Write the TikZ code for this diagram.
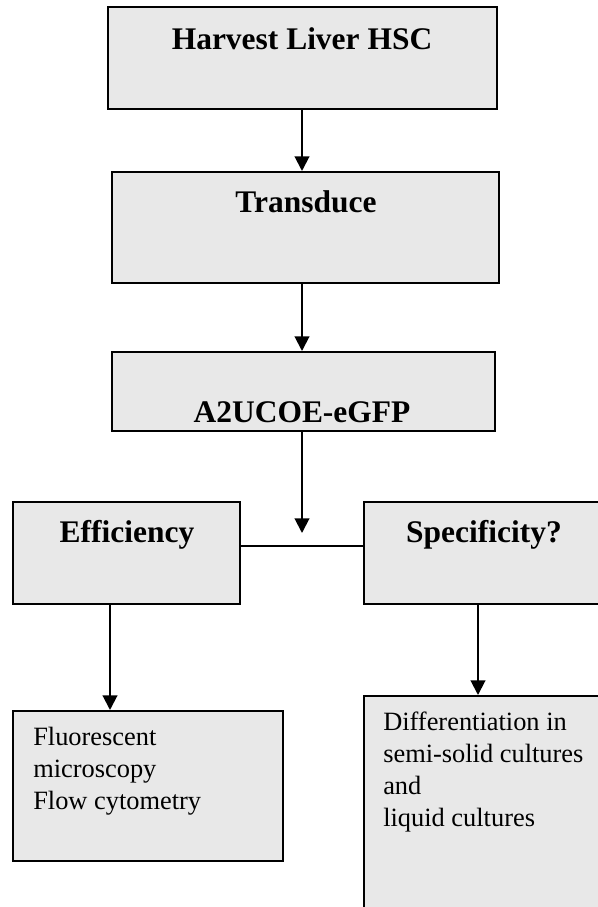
\documentclass[tikz,border=0pt]{standalone}
\usepackage{fontspec}
\setmainfont{Liberation Serif}
\usetikzlibrary{arrows.meta,fit}

\begin{document}
\begin{tikzpicture}[x=0.75pt,y=0.75pt,yscale=-1,xscale=1,
  box/.style={draw, line width=1.5pt, fill={rgb, 255:red, 232; green, 232; blue, 232}, inner sep=0pt},
  head/.style={font=\fontsize{23.6}{28}\selectfont\bfseries, inner sep=0pt, anchor=base},
  body/.style={font=\fontsize{19.8}{24}\selectfont, inner sep=0pt, align=left, anchor=base west},
  arr/.style={line width=1.5pt, -{Triangle[width=11pt,length=11pt]}}]
\clip (0,0) rectangle (598,907);

%Boxes
\node[box, fit={(108,7) (497,109)}] (harvest) {};
\node[box, fit={(112,172) (499,283)}] (transduce) {};
\node[box, fit={(112,352) (495,431)}] (vector) {};
\node[box, fit={(13,502) (240,604)}] (efficiency) {};
\node[box, fit={(364,502) (640,604)}] (specificity) {};
\node[box, fit={(13,711) (283,861)}] (assay) {};
\node[box, fit={(364,696) (640,960)}] (culture) {};

%Helper points
\coordinate (axis) at (302,0);
\coordinate (joint) at (302,546);
\coordinate (jointtip) at (302,533);
\coordinate (leftaxis) at (110,0);
\coordinate (rightaxis) at (478,0);

% Text Node
\node[head] (harvesttxt) at (302,49) {Harvest Liver HSC};
% Text Node
\node[head] (transducetxt) at (306,212) {Transduce};
% Text Node
\node[head] (vectortxt) at (302,422) {A2UCOE-eGFP};
% Text Node
\node[head] (efficiencytxt) at (127,542) {Efficiency};
% Text Node
\node[head] (specificitytxt) at (484,542) {Specificity?};
% Text Node (placed at the last line)
\node[body] (assaytxt) at (33,809) {Fluorescent\\microscopy\\Flow cytometry};
% Text Node (placed at the last line)
\node[body] (culturetxt) at (383,826) {Differentiation in\\semi-solid cultures\\and\\liquid cultures};

%Straight Lines
\draw[arr] (harvest.south -| axis) -- (transduce.north -| axis);
\draw[arr] (transduce.south -| axis) -- (vector.north -| axis);
\draw[arr] (vector.south -| axis) -- (jointtip);
\draw[line width=1.5pt] (efficiency.east |- joint) -- (specificity.west |- joint);
\draw[arr] (efficiency.south -| leftaxis) -- (assay.north -| leftaxis);
\draw[arr] (specificity.south -| rightaxis) -- (culture.north -| rightaxis);

\end{tikzpicture}
\end{document}
